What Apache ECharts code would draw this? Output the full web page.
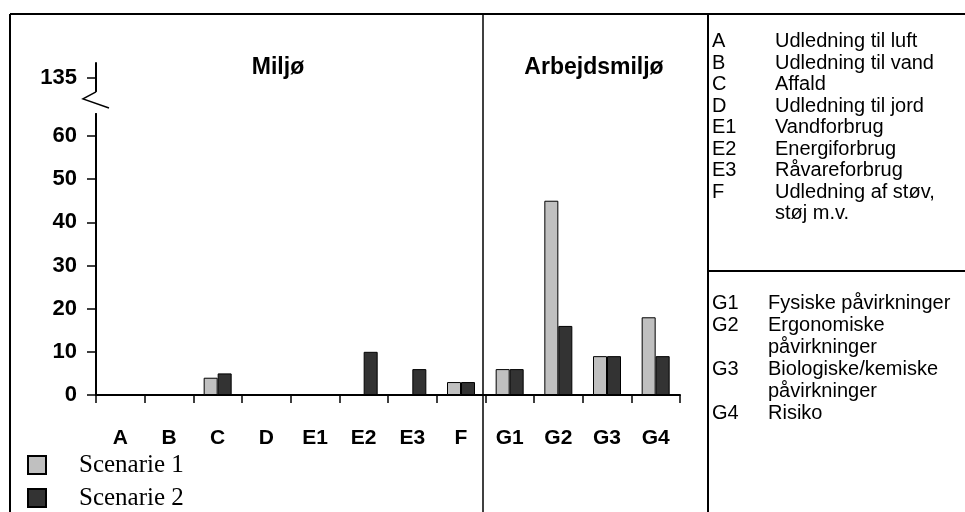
<!DOCTYPE html>
<html>
<head>
<meta charset="utf-8">
<script src="https://cdn.jsdelivr.net/npm/echarts@6.0.0/dist/echarts.min.js"></script>
<style>
  html, body { margin: 0; padding: 0; background: #fff; }
  #chart { width: 965px; height: 512px; }
</style>
</head>
<body>
<div id="chart"></div>
<script>
// ---- data ----
const categories = ['A', 'B', 'C', 'D', 'E1', 'E2', 'E3', 'F', 'G1', 'G2', 'G3', 'G4'];
const scenario1 = [0, 0, 4, 0, 0, 0, 0, 3, 6, 45, 9, 18];
const scenario2 = [0, 0, 5, 0, 0, 10, 6, 3, 6, 16, 9, 9];
const seriesNames = ['Scenarie 1', 'Scenarie 2'];
const yTickValues = [0, 10, 20, 30, 40, 50, 60];
const brokenTickLabel = '135';
const brokenTickPos = 73.4;      // axis position where the broken "135" tick is shown
const breakFrom = 65.3;          // axis break (gap in axis line)
const breakTo = 70.2;
const yAxisMax = 76.9;
const groupTitles = ['Miljø', 'Arbejdsmiljø'];
const upperCodes = ['A', 'B', 'C', 'D', 'E1', 'E2', 'E3', 'F', ''];
const upperTexts = ['Udledning til luft', 'Udledning til vand', 'Affald', 'Udledning til jord',
  'Vandforbrug', 'Energiforbrug', 'Råvareforbrug', 'Udledning af støv,', 'støj m.v.'];
const lowerCodes = ['G1', 'G2', '', 'G3', '', 'G4'];
const lowerTexts = ['Fysiske påvirkninger', 'Ergonomiske', 'påvirkninger',
  'Biologiske/kemiske', 'påvirkninger', 'Risiko'];

// ---- chart ----
const SANS = 'Liberation Sans, Arial, sans-serif';
const SERIF = 'Liberation Serif, Times New Roman, serif';
const chart = echarts.init(document.getElementById('chart'), null, { renderer: 'canvas' });

const legendFor = (name, top) => ({
  data: [name],
  orient: 'vertical',
  left: 27, top: top,
  padding: 0,
  icon: 'rect',
  itemWidth: 18, itemHeight: 18,
  textStyle: { fontFamily: SERIF, fontSize: 25, lineHeight: 26, color: '#000', padding: [0, 0, 0, 28] }
});

chart.setOption({
  animation: false,
  backgroundColor: '#fff',
  grid: { left: 96, right: 285, top: 63, bottom: 117, containLabel: false },
  legend: [legendFor(seriesNames[0], 452), legendFor(seriesNames[1], 485)],
  xAxis: {
    type: 'category',
    data: categories,
    axisLine: { show: true, lineStyle: { color: '#000', width: 2 } },
    axisTick: { show: true, interval: 0, length: 8, lineStyle: { color: '#000', width: 1.5 } },
    axisLabel: { interval: 0, margin: 33, fontFamily: SANS, fontSize: 21, fontWeight: 'bold', color: '#000' },
    splitLine: { show: false }
  },
  yAxis: {
    type: 'value',
    min: 0, max: yAxisMax,
    axisLine: { show: true, lineStyle: { color: '#000', width: 2 } },
    axisTick: { show: true, length: 9, customValues: yTickValues.concat([brokenTickPos]),
      lineStyle: { color: '#000', width: 1.5 } },
    axisLabel: {
      customValues: yTickValues.concat([brokenTickPos]),
      formatter: v => (Math.abs(v - brokenTickPos) < 1e-6 ? brokenTickLabel : String(v)),
      margin: 19, fontFamily: SANS, fontSize: 22, fontWeight: 'bold', color: '#000'
    },
    splitLine: { show: false }
  },
  series: [
    { name: seriesNames[0], type: 'bar', data: scenario1, barWidth: 14, barGap: '0%',
      itemStyle: { color: '#c0c0c0', borderColor: '#000', borderWidth: 1 } },
    { name: seriesNames[1], type: 'bar', data: scenario2, barWidth: 14, barGap: '0%',
      itemStyle: { color: '#333333', borderColor: '#000', borderWidth: 1 } }
  ]
});

// ---- decorations: frame, axis break, titles, explanation panel ----
const px = v => chart.convertToPixel({ yAxisIndex: 0 }, v);
const axisX = chart.convertToPixel({ xAxisIndex: 0 }, 0) - 24.33 * 0 ; // placeholder for category pos
const gridLeft = 96;
const yB1 = px(breakTo), yB2 = px(breakFrom);

const graphics = [];
const line = (x1, y1, x2, y2, w) => graphics.push({
  type: 'line', shape: { x1, y1, x2, y2 }, style: { stroke: '#000', lineWidth: w }, z: 100
});
// frame
line(10, 14, 965, 14, 2);
line(10, 14, 10, 512, 2);
line(483, 14, 483, 512, 1.5);
line(708, 14, 708, 512, 2);
line(708, 271, 965, 271, 2);

// axis break
graphics.push({ type: 'rect', shape: { x: gridLeft - 3, y: yB1, width: 6, height: yB2 - yB1 },
  style: { fill: '#fff' }, z: 99 });
graphics.push({ type: 'polyline', shape: { points: [[gridLeft, yB1], [gridLeft - 13, yB1 + 7], [gridLeft + 13, yB1 + 16]] },
  style: { stroke: '#000', lineWidth: 1.5, fill: null }, z: 100 });

// group titles
const title = (x, s) => graphics.push({ type: 'text', x, y: 68,
  style: { text: s, fontFamily: SANS, fontSize: 23, fontWeight: 'bold', fill: '#000',
    textAlign: 'center', textVerticalAlign: 'middle' }, z: 100 });
title(278, groupTitles[0]);
title(594, groupTitles[1]);

// explanation panel
const txt = (x, y, s) => graphics.push({ type: 'text', x, y,
  style: { text: s, fontFamily: SANS, fontSize: 20, fill: '#000', textVerticalAlign: 'middle' }, z: 100 });
upperTexts.forEach((t, i) => {
  const y = 41.7 + i * 21.5;
  if (upperCodes[i]) txt(712, y, upperCodes[i]);
  txt(775, y, t);
});
lowerTexts.forEach((t, i) => {
  const y = 303 + i * 22;
  if (lowerCodes[i]) txt(712, y, lowerCodes[i]);
  txt(768, y, t);
});

chart.setOption({ graphic: graphics });
</script>
</body>
</html>
